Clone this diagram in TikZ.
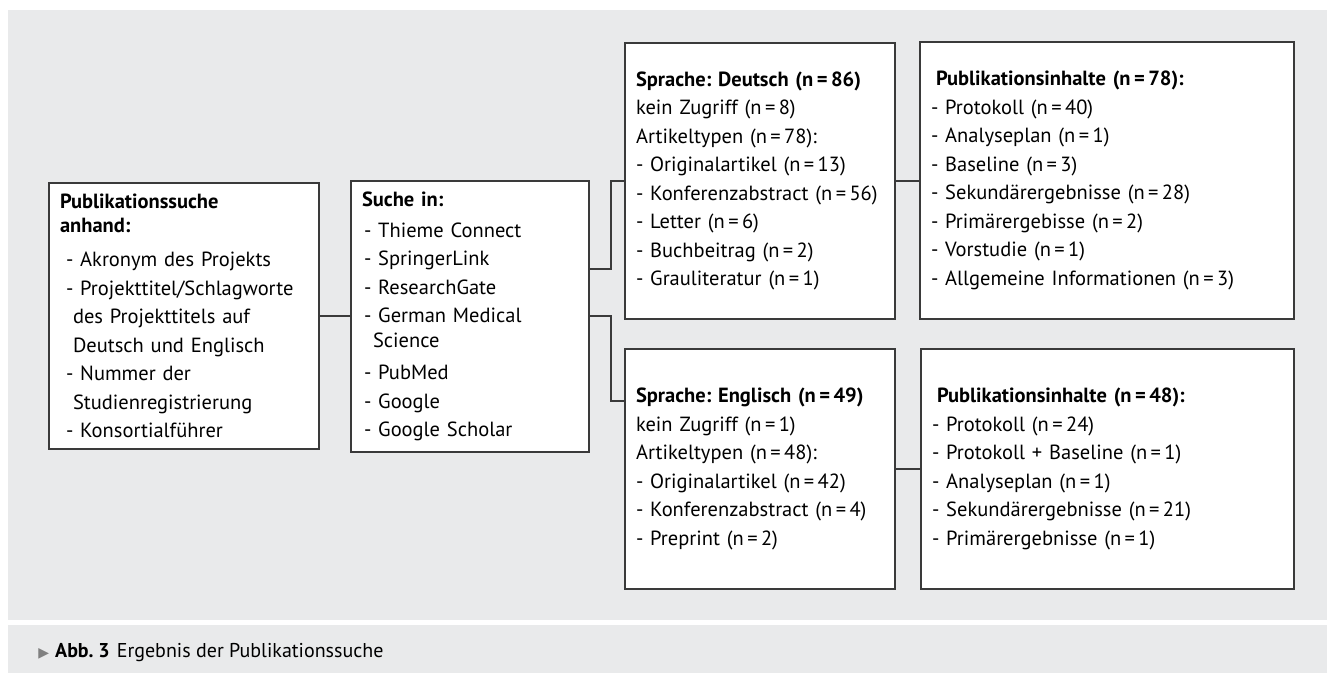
\documentclass[tikz,border=0pt]{standalone}
\usepackage{fontspec}
\setmainfont{PT Sans}
\newfontfamily\symfont{DejaVu Sans}
\usepackage{xcolor}
\usepackage{tikz}
\usetikzlibrary{positioning,calc}
\frenchspacing
\definecolor{panel}{HTML}{E9EAEB}
\definecolor{rand}{HTML}{3A3A3A}
\tikzstyle{kasten}= [draw=rand, line width=1pt, fill=white, anchor=north west, align=left, inner xsep=5.5pt, inner ysep=0pt, font=\fontsize{10.25}{14.25}\selectfont]
\tikzstyle{linie}= [draw=rand, line width=1pt]

\begin{document}
\begin{tikzpicture}[x=0.5pt, y=-0.5pt]
				\useasboundingbox (0,0) rectangle (1327,673);
				\fill[panel] (8,10) rectangle (1327,620);
				\fill[panel] (8,625) rectangle (1327,673);
				\node[kasten, text width=124pt, minimum height=133pt] (such) at (48,182) {\textbf{Publikationssuche}\\[-2.25pt]\textbf{anhand:}\\[2.75pt]
					\hspace*{3pt}- Akronym des Projekts\\
					\hspace*{3pt}- Projekttitel/Schlagworte\\
					\hspace*{6.5pt}des Projekttitels auf\\
					\hspace*{6.5pt}Deutsch und Englisch\\
					\hspace*{3pt}- Nummer der\\
					\hspace*{6.5pt}Studienregistrierung\\
					\hspace*{3pt}- Konsortialführer};
				\node[kasten, text width=108pt, minimum height=135.5pt] (quell) at (350,180) {\textbf{Suche in:}\\[1pt]
					\hspace*{1pt}- Thieme Connect\\
					\hspace*{1pt}- SpringerLink\\
					\hspace*{1pt}- ResearchGate\\
					\hspace*{1pt}- German Medical\\[-2pt]
					\hspace*{5.5pt}Science\\[2pt]
					\hspace*{1pt}- PubMed\\
					\hspace*{1pt}- Google\\
					\hspace*{1pt}- Google Scholar};
				\node[kasten, text width=124pt, minimum height=138pt] (de) at (624,42) {\textbf{Sprache: Deutsch (n\,=\,86)}\\
					kein Zugriff (n\,=\,8)\\
					Artikeltypen (n\,=\,78):\\
					- Originalartikel (n\,=\,13)\\
					- Konferenzabstract (n\,=\,56)\\
					- Letter (n\,=\,6)\\
					- Buchbeitrag (n\,=\,2)\\
					- Grauliteratur (n\,=\,1)};
				\node[kasten, text width=176pt, minimum height=138.5pt] (dePub) at (919,41) {\hspace*{2.5pt}\textbf{Publikationsinhalte (n\,=\,78):}\\
					- Protokoll (n\,=\,40)\\
					- Analyseplan (n\,=\,1)\\
					- Baseline (n\,=\,3)\\
					- Sekundärergebnisse (n\,=\,28)\\
					- Primärergebisse (n\,=\,2)\\
					- Vorstudie (n\,=\,1)\\
					- Allgemeine Informationen (n\,=\,3)};
				\node[kasten, text width=124pt, minimum height=120pt] (en) at (624,348) {\textbf{Sprache: Englisch (n\,=\,49)}\\
					kein Zugriff (n\,=\,1)\\
					Artikeltypen (n\,=\,48):\\
					- Originalartikel (n\,=\,42)\\
					- Konferenzabstract (n\,=\,4)\\
					- Preprint (n\,=\,2)};
				\node[kasten, text width=175.5pt, minimum height=120pt] (enPub) at (920,348) {\hspace*{2.5pt}\textbf{Publikationsinhalte (n\,=\,48):}\\
					- Protokoll (n\,=\,24)\\
					- Protokoll + Baseline (n\,=\,1)\\
					- Analyseplan (n\,=\,1)\\
					- Sekundärergebnisse (n\,=\,21)\\
					- Primärergebnisse (n\,=\,1)};
				\draw[linie] (such.east) -- (such.east -| quell.west);
				\draw[linie] ($(quell.north east)!.325!(quell.south east)$) -- ++(21,0) |- (de.west);
				\draw[linie] (quell.east) -- ++(21,0) |- ($(en.north west)!.217!(en.south west)$);
				\draw[linie] (de.east) -- (de.east -| dePub.west);
				\draw[linie] (en.east) -- (en.east -| enPub.west);
				\node[anchor=base west, inner sep=0pt, font=\fontsize{10}{11}\selectfont] (abb) at (38,657) {{\symfont\color{gray}\fontsize{7}{8}\selectfont ▶}\hspace{3pt}\textbf{Abb. 3}\hspace{3.5pt}Ergebnis der Publikationssuche};
			\end{tikzpicture}
\end{document}
